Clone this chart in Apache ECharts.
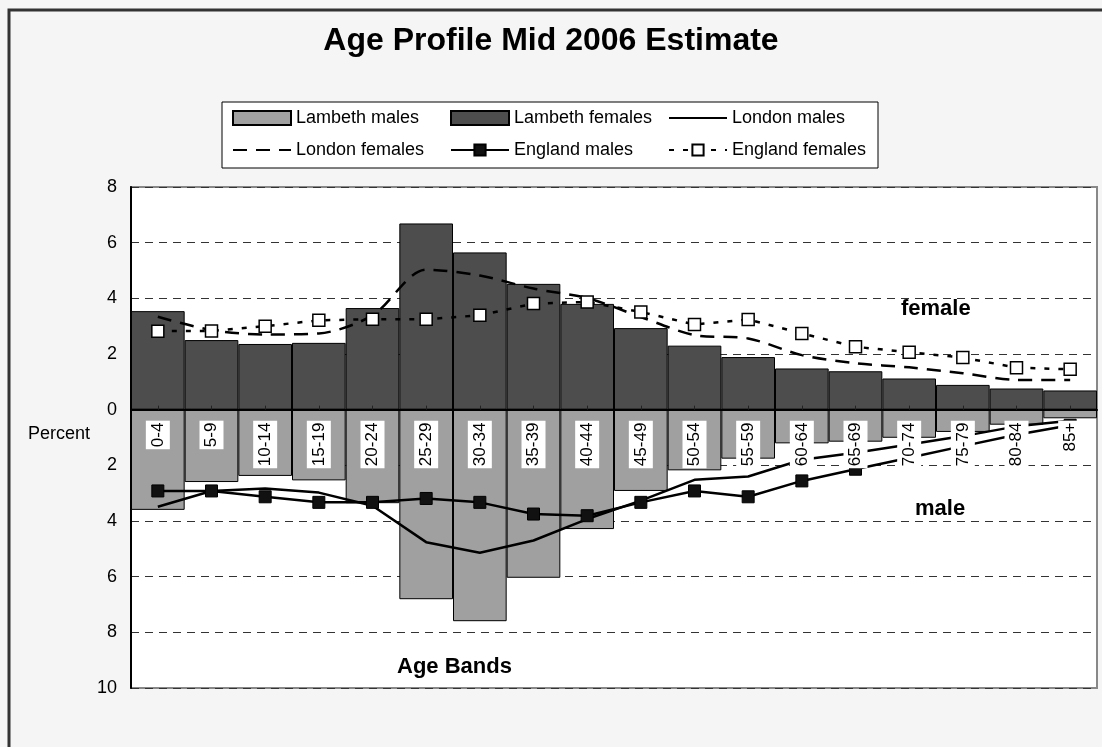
<!DOCTYPE html>
<html>
<head>
<meta charset="utf-8">
<title>Age Profile Mid 2006 Estimate</title>
<script src="https://cdn.jsdelivr.net/npm/echarts@6/dist/echarts.min.js"></script>
<style>
  html, body { margin: 0; padding: 0; background: #f5f5f5; }
  #chart { width: 1102px; height: 747px; }
</style>
</head>
<body>
<div id="chart"></div>
<script>
// Age bands (x categories)
const ageBands = ['0-4', '5-9', '10-14', '15-19', '20-24', '25-29', '30-34', '35-39', '40-44',
  '45-49', '50-54', '55-59', '60-64', '65-69', '70-74', '75-79', '80-84', '85+'];

// Percent of population in each band (females drawn above the axis, males below)
const lambethFemales = [3.54, 2.50, 2.36, 2.40, 3.65, 6.69, 5.65, 4.52, 3.80, 2.93, 2.30, 1.89, 1.48, 1.38, 1.12, 0.89, 0.76, 0.69];
const lambethMales   = [3.60, 2.60, 2.38, 2.54, 3.36, 6.81, 7.60, 6.04, 4.29, 2.92, 2.18, 1.76, 1.21, 1.15, 1.01, 0.80, 0.54, 0.31];
const londonMales    = [3.49, 2.92, 2.83, 2.98, 3.45, 4.76, 5.14, 4.70, 3.93, 3.27, 2.52, 2.40, 1.80, 1.55, 1.25, 0.95, 0.60, 0.40];
const londonFemales  = [3.34, 2.86, 2.70, 2.74, 3.39, 5.03, 4.82, 4.35, 4.01, 3.33, 2.68, 2.56, 1.96, 1.67, 1.52, 1.31, 1.07, 1.07];
const englandMales   = [2.92, 2.92, 3.13, 3.33, 3.33, 3.19, 3.33, 3.75, 3.81, 3.33, 2.92, 3.13, 2.56, 2.14, 1.73, 1.31, 0.90, 0.56];
const englandFemales = [2.82, 2.83, 3.00, 3.21, 3.25, 3.25, 3.39, 3.81, 3.87, 3.51, 3.06, 3.24, 2.74, 2.26, 2.06, 1.87, 1.51, 1.45];

// Percent axis: male side runs downward, labels show magnitudes
const yMin = -10, yMax = 8, yStep = 2;

const below = arr => arr.map(v => -v);
const FONT = 'Liberation Sans, Arial, sans-serif';

// Plot area geometry
const W = 1102, H = 747;
const gridLeft = 131, gridRight = 5, gridTop = 187, gridBottom = 59;
const plotH = H - gridTop - gridBottom;
// lift the category axis from the bottom edge up to the zero line
const zeroLift = plotH * (0 - yMin) / (yMax - yMin);

const legendText = { fontFamily: FONT, fontSize: 18, color: '#000' };
const legendColumn = (left, names) => ({
  orient: 'vertical',
  left: left,
  top: 109,
  padding: 0,
  itemWidth: 58,
  itemHeight: 14,
  itemGap: 14,
  textStyle: legendText,
  data: names
});
// line-only legend keys (no marker)
const plainKey = name => ({ name: name, itemStyle: { color: 'transparent', borderWidth: 0 } });

const chart = echarts.init(document.getElementById('chart'), null, { renderer: 'canvas' });

chart.setOption({
  animation: false,
  backgroundColor: '#f5f5f5',
  textStyle: { fontFamily: FONT, color: '#000' },
  title: {
    text: 'Age Profile Mid 2006 Estimate',
    left: 'center',
    top: 25,
    padding: 0,
    textStyle: { fontFamily: FONT, fontSize: 32, fontWeight: 'bold', color: '#000' }
  },
  legend: [
    legendColumn(232, [{ name: 'Lambeth males', icon: 'rect' }, plainKey('London females')]),
    legendColumn(450, [{ name: 'Lambeth females', icon: 'rect' }, 'England males']),
    legendColumn(668, [plainKey('London males'), 'England females'])
  ],
  grid: {
    left: gridLeft,
    right: gridRight,
    top: gridTop,
    bottom: gridBottom,
    show: true,
    backgroundColor: '#ffffff',
    borderColor: '#888',
    borderWidth: 2
  },
  xAxis: {
    type: 'category',
    data: ageBands,
    z: 10,
    offset: -zeroLift,
    axisLine: { onZero: false, lineStyle: { color: '#000', width: 2 } },
    axisTick: { show: true, inside: true, length: 4, alignWithLabel: true, lineStyle: { color: '#222', width: 1 } },
    axisLabel: {
      interval: 0,
      rotate: 90,
      margin: 11,
      fontFamily: FONT,
      fontSize: 17,
      color: '#000',
      lineHeight: 20,
      backgroundColor: '#ffffff',
      padding: [2, 2, 2, 2]
    },
    splitLine: { show: false }
  },
  yAxis: {
    type: 'value',
    min: yMin,
    max: yMax,
    interval: yStep,
    axisLine: { show: true, lineStyle: { color: '#000', width: 2 } },
    axisTick: { show: false },
    axisLabel: {
      margin: 14,
      fontFamily: FONT,
      fontSize: 18,
      color: '#000',
      formatter: v => String(Math.abs(v))
    },
    splitLine: { show: true, lineStyle: { color: '#333', width: 1, type: [8, 6] } }
  },
  graphic: [
    // outer chart frame
    { type: 'rect', shape: { x: 9, y: 10, width: 1200, height: 800 },
      style: { fill: 'none', stroke: '#333', lineWidth: 3 }, silent: true, z: 0 },
    // legend frame
    { type: 'rect', shape: { x: 222, y: 102, width: 656, height: 66 },
      style: { fill: '#ffffff', stroke: '#000', lineWidth: 1 }, silent: true, z: 0 },
    { type: 'text', left: 28, top: 425, style: { text: 'Percent', font: '18px ' + FONT, fill: '#000' } },
    { type: 'text', left: 901, top: 298, z: 20, style: { text: 'female', font: 'bold 22px ' + FONT, fill: '#000' } },
    { type: 'text', left: 915, top: 498, z: 20, style: { text: 'male', font: 'bold 22px ' + FONT, fill: '#000' } },
    { type: 'text', left: 397, top: 656, z: 20, style: { text: 'Age Bands', font: 'bold 22px ' + FONT, fill: '#000' } }
  ],
  series: [
    {
      name: 'Lambeth males',
      type: 'bar',
      stack: 'lambeth',
      barCategoryGap: 0,
      data: below(lambethMales),
      itemStyle: { color: '#a0a0a0', borderColor: '#000', borderWidth: 1 }
    },
    {
      name: 'Lambeth females',
      type: 'bar',
      stack: 'lambeth',
      barCategoryGap: 0,
      data: lambethFemales,
      itemStyle: { color: '#4d4d4d', borderColor: '#000', borderWidth: 1 }
    },
    {
      name: 'London males',
      type: 'line',
      data: below(londonMales),
      symbol: 'none',
      lineStyle: { color: '#000', width: 2.5 },
      itemStyle: { color: '#000' }
    },
    {
      name: 'London females',
      type: 'line',
      data: londonFemales,
      smooth: 0.3,
      symbol: 'none',
      lineStyle: { color: '#000', width: 2.5, type: [14, 9] },
      itemStyle: { color: '#000' }
    },
    {
      name: 'England males',
      type: 'line',
      data: below(englandMales),
      symbol: 'rect',
      symbolSize: 12,
      lineStyle: { color: '#000', width: 2.5 },
      itemStyle: { color: '#111', borderColor: '#000', borderWidth: 1 }
    },
    {
      name: 'England females',
      type: 'line',
      data: englandFemales,
      symbol: 'rect',
      symbolSize: 12,
      lineStyle: { color: '#000', width: 2.5, type: [5, 9] },
      itemStyle: { color: '#ffffff', borderColor: '#000', borderWidth: 1.5 }
    }
  ]
});
</script>
</body>
</html>
